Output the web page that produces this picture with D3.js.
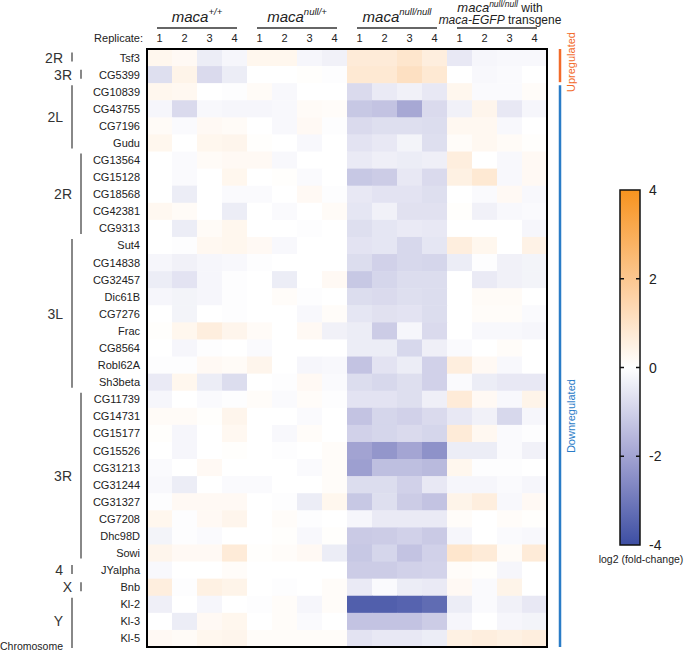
<!DOCTYPE html>
<html><head><meta charset="utf-8">
<script src="https://cdn.jsdelivr.net/npm/d3@7"></script>
<style>body{margin:0;background:#fff} svg{display:block} text{font-family:"Liberation Sans",Arial,sans-serif}</style>
</head><body><svg id="c" width="687" height="652"></svg>
<script>
const genes = ["Tsf3","CG5399","CG10839","CG43755","CG7196","Gudu","CG13564","CG15128","CG18568","CG42381","CG9313","Sut4","CG14838","CG32457","Dic61B","CG7276","Frac","CG8564","Robl62A","Sh3beta","CG11739","CG14731","CG15177","CG15526","CG31213","CG31244","CG31327","CG7208","Dhc98D","Sowi","JYalpha","Bnb","Kl-2","Kl-3","Kl-5"];
const replicates = ["1","2","3","4"];
const groups = ["wildType","heterozygous","homozygous","rescue"];
// log2 fold-change, one row per gene, 4 replicates
const wildType = [[0.3,0.2,-0.4,-0.2],[-0.7,0.4,-0.8,-0.4],[0.3,0.25,0,-0.05],[-0.2,-0.8,-0.15,-0.2],[0.15,-0.1,0.2,0.15],[0.3,0,0.3,0.35],[0,-0.1,0.15,0.2],[0,-0.1,0,0.3],[0,-0.4,0,-0.1],[0.25,0.15,0,-0.4],[0,-0.4,0.15,0.3],[0,-0.05,0.25,0.3],[-0.2,-0.3,-0.2,-0.15],[-0.4,-0.6,-0.2,-0.05],[-0.2,-0.25,-0.2,-0.05],[0,-0.25,0,-0.05],[0.05,0.3,0.6,0.35],[0,-0.2,-0.05,0],[-0.05,-0.05,0.2,0.15],[-0.45,0.3,-0.4,-0.75],[-0.2,0,-0.1,-0.05],[0.15,0.15,0.05,0.35],[0.05,-0.2,0,0.25],[0,-0.2,0,0.05],[-0.1,0,0.2,0],[-0.15,-0.4,0,-0.1],[-0.05,0.2,0.2,0.2],[0.3,-0.05,0.2,0.35],[-0.25,-0.05,-0.1,0],[0.35,0.2,0.2,0.7],[-0.15,0,0,0.1],[0.6,-0.05,0.5,0.4],[-0.35,0,-0.2,0],[0,-0.4,0.2,0.3],[0.2,0.15,0.3,0.35]];
const heterozygous = [[0.3,0.3,-0.2,-0.3],[0,0,0.05,-0.05],[0.15,-0.15,0,0],[-0.2,-0.15,0.15,0.1],[0,-0.15,0.2,-0.05],[0.05,0,-0.15,0],[0.2,-0.15,0,0],[0,0.05,-0.1,0],[-0.1,0,0.2,-0.05],[0,-0.1,0,0.15],[0,0,-0.05,0],[0.2,-0.15,0,0],[-0.05,0,0,0],[0,-0.4,0,0.2],[0,0.1,-0.05,0],[0,0,-0.15,0.1],[0.15,0,0.2,-0.3],[-0.1,0,0,0],[0.35,0,-0.2,-0.15],[0,-0.05,0.2,-0.1],[0.1,-0.1,0.1,-0.05],[0,0,-0.1,0],[0,-0.15,0.1,0],[0,-0.05,0,0.1],[0,0,-0.1,0.1],[-0.1,0,0,0.1],[0,-0.05,-0.4,0.3],[0,0.1,-0.05,0],[0,0.05,-0.15,0.05],[0.05,0.1,0.2,-0.4],[0,0,0,0],[0,-0.05,0,0.1],[-0.05,0.1,-0.2,0.1],[0,0.1,-0.1,0],[0.1,0.1,0.1,0.1]];
const homozygous = [[0.7,0.7,0.9,0.6],[0.8,0.8,1.1,0.8],[-0.8,-0.45,-0.3,-0.5],[-1.2,-1.3,-1.9,-0.8],[-0.8,-0.7,-0.7,-0.75],[-0.6,-0.5,-0.25,-0.7],[-0.45,-0.35,-0.4,-0.35],[-1.2,-1.1,-0.5,-0.8],[-0.5,-0.6,-0.6,-0.7],[-0.55,-0.3,-0.65,-0.65],[-0.7,-0.55,-0.45,-0.5],[-0.6,-0.55,-0.85,-0.55],[-0.75,-1.0,-0.85,-0.9],[-1.2,-0.9,-0.75,-0.75],[-0.75,-0.8,-0.7,-0.75],[-0.55,-0.65,-0.6,-0.75],[-0.4,-1.1,-0.2,-0.8],[-0.4,-0.4,-0.85,-0.35],[-1.3,-0.6,-0.4,-1.0],[-0.75,-0.85,-0.7,-1.0],[-0.6,-0.6,-0.7,-0.35],[-1.3,-0.9,-1.0,-0.8],[-1.0,-0.9,-0.8,-0.9],[-2.0,-2.3,-1.95,-2.4],[-2.1,-1.4,-1.4,-1.5],[-0.75,-0.75,-1.0,-0.5],[-1.2,-0.7,-1.1,-1.3],[-0.2,-0.45,-0.45,-0.45],[-1.15,-1.1,-1.0,-1.15],[-1.2,-0.9,-1.3,-1.0],[-1.1,-1.1,-1.0,-0.95],[-0.45,-0.1,-0.4,-0.45],[-3.6,-3.6,-3.5,-3.3],[-1.3,-1.3,-1.3,-1.1],[-0.6,-0.5,-0.5,-0.4]];
const rescue = [[-0.5,-0.2,-0.15,-0.15],[0,-0.15,-0.1,0],[0.3,-0.1,-0.1,0.1],[-0.3,0.35,-0.5,-0.2],[0.25,0.25,-0.15,0],[0.1,0.25,0.15,0.05],[0.6,0,-0.15,0.2],[0.5,0.8,-0.15,0.2],[0,-0.1,0.2,-0.15],[0.05,-0.3,-0.15,-0.1],[0,0,0,-0.2],[0.6,0.3,0,0.45],[-0.4,-0.05,-0.3,-0.25],[0,-0.45,-0.3,-0.25],[0,0.15,0.15,0],[0,0.1,0.1,-0.1],[0,-0.15,-0.15,-0.2],[-0.1,0,0.1,0],[0.6,0.2,-0.15,0],[-0.1,-0.4,-0.5,-0.5],[0.7,0.2,-0.15,0.4],[-0.5,-0.3,-0.85,-0.2],[0.7,0.25,-0.1,-0.05],[-0.4,-0.4,-0.1,-0.3],[0.3,-0.05,-0.05,0],[-0.2,-0.2,-0.1,-0.2],[0.4,0.6,-0.15,0.2],[0.1,0,0.1,0.05],[-0.2,0,-0.1,-0.15],[0.9,0.7,0.15,0.7],[0.1,0.05,-0.2,0],[0.2,-0.1,0.4,0],[-0.4,-0.1,-0.3,-0.5],[-0.2,0,-0.2,-0.25],[0.5,0.6,0.5,0.6]];
const chromLabels = ["2R","3R","2L","2R","3L","3R","4","X","Y"];
const chromFirst  = ["Tsf3","CG5399","CG10839","CG13564","Sut4","CG11739","JYalpha","Bnb","Kl-2"];
const chromLast   = ["Tsf3","CG5399","Gudu","CG9313","Sh3beta","Sowi","JYalpha","Bnb","Kl-5"];
const chromLevel  = [0,1,0,1,0,1,0,1,0];
const regLabels = ["Upregulated","Downregulated"];
const regFirst = ["Tsf3","CG10839"];
const regLast = ["CG5399","Kl-5"];
const regColors = ["#f26b2a","#2a7cc7"];
const colorTicks = [4,2,0,-2,-4];

const dataSets = {wildType, heterozygous, homozygous, rescue};
const columns = [];
groups.forEach((g,gi)=>replicates.forEach((r,ri)=>columns.push({key:g+"_"+r,g,gi,ri,r})));
const cells = [];
genes.forEach((gene,i)=>columns.forEach(c=>cells.push({gene,col:c.key,v:dataSets[c.g][i][c.ri]})));

const svg = d3.select("#c");
const x = d3.scaleBand().domain(columns.map(c=>c.key)).range([147,547]);
const y = d3.scaleBand().domain(genes).range([49,647]);
const color = d3.scaleLinear().domain([-4,-2,0,2,4]).range(["#3d4ea3","#a2a3d2","#ffffff","#fcc790","#f7931e"]).clamp(true);

svg.append("g").selectAll("rect").data(cells).join("rect")
  .attr("x",d=>x(d.col)).attr("y",d=>y(d.gene))
  .attr("width",x.bandwidth()+0.5).attr("height",y.bandwidth()+0.5)
  .attr("fill",d=>color(d.v));
svg.append("rect").attr("x",147).attr("y",49).attr("width",400).attr("height",598)
  .attr("fill","none").attr("stroke","#000").attr("stroke-width",2);

// gene labels
svg.append("g").selectAll("text").data(genes).join("text")
  .attr("x",140).attr("y",d=>y(d)+y.bandwidth()/2+4).attr("text-anchor","end")
  .attr("font-size",11).attr("fill","#222").text(d=>d);

// replicate labels
svg.append("text").attr("x",143).attr("y",42).attr("text-anchor","end").attr("font-size",11).attr("fill","#222").text("Replicate:");
svg.append("g").selectAll("text").data(columns).join("text")
  .attr("x",d=>x(d.key)+x.bandwidth()/2).attr("y",42).attr("text-anchor","middle")
  .attr("font-size",11).attr("fill","#222").text(d=>d.r);

// group headers
const gx = gi => { const a = x(columns[gi*4].key), b = x(columns[gi*4+3].key)+x.bandwidth(); return [a,b]; };
groups.forEach((g,gi)=>{
  const [a,b] = gx(gi);
  svg.append("line").attr("x1",a+10).attr("x2",b-10).attr("y1",28).attr("y2",28).attr("stroke","#333").attr("stroke-width",1.5);
});
const sups = ["+/+","null/+","null/null"];
sups.forEach((s,gi)=>{
  const [a,b]=gx(gi);
  const t = svg.append("text").attr("x",(a+b)/2).attr("y",22).attr("text-anchor","middle").attr("fill","#222").attr("font-size",15);
  t.append("tspan").attr("font-style","italic").text("maca");
  t.append("tspan").attr("font-style","italic").attr("font-size",9.5).attr("dy",-7).text(s);
});
{
  const [a,b]=gx(3);
  const t1 = svg.append("text").attr("x",(a+b)/2+3).attr("y",12).attr("text-anchor","middle").attr("fill","#222").attr("font-size",12);
  t1.append("tspan").attr("font-style","italic").attr("font-size",13).text("maca");
  t1.append("tspan").attr("font-style","italic").attr("font-size",8.5).attr("dy",-5).text("null/null");
  t1.append("tspan").attr("dy",5).text(" with");
  const t2 = svg.append("text").attr("x",(a+b)/2+3).attr("y",24).attr("text-anchor","middle").attr("fill","#222").attr("font-size",12);
  t2.append("tspan").attr("font-style","italic").text("maca-EGFP");
  t2.append("tspan").text(" transgene");
}

// chromosome brackets
chromLabels.forEach((lab,i)=>{
  const y0 = y(chromFirst[i]), y1 = y(chromLast[i])+y.bandwidth();
  const bx = chromLevel[i]===0 ? 72 : 81;
  const single = chromFirst[i]===chromLast[i];
  const cy = (y0+y1)/2;
  svg.append("line").attr("x1",bx).attr("x2",bx)
    .attr("y1", single ? cy-5 : y0+2).attr("y2", single ? cy+4 : (i===chromLabels.length-1 ? y1+1 : y1-3))
    .attr("stroke","#888").attr("stroke-width",2);
  svg.append("text").attr("x",bx-9).attr("y",cy+5).attr("text-anchor","end")
    .attr("font-size",14).attr("fill","#333").text(lab);
});
svg.append("text").attr("x",0).attr("y",650).attr("font-size",10.5).attr("fill","#222").text("Chromosome");

// regulation bars
regLabels.forEach((lab,i)=>{
  const y0 = y(regFirst[i]) + (i===1?2:0), y1 = y(regLast[i])+y.bandwidth() - (i===0?1:0);
  svg.append("line").attr("x1",560).attr("x2",560).attr("y1",y0).attr("y2",y1).attr("stroke",regColors[i]).attr("stroke-width",2.5);
  const cy = i===0 ? 62 : (y0+y1)/2 + 50;
  svg.append("text").attr("transform",`translate(575,${cy}) rotate(-90)`).attr("text-anchor","middle")
    .attr("font-size",11).attr("fill",regColors[i]).text(lab);
});

// colour bar
const cbX = 620, cbW = 20, cbTop = 190, cbBot = 545;
const cy = d3.scaleLinear().domain([4,-4]).range([cbTop,cbBot]);
const grad = svg.append("defs").append("linearGradient").attr("id","cg").attr("x1",0).attr("x2",0).attr("y1",0).attr("y2",1);
d3.range(0,21).forEach(k=>{ const v = 4 - k*0.4; grad.append("stop").attr("offset",(k/20)).attr("stop-color",color(v)); });
svg.append("rect").attr("x",cbX).attr("y",cbTop).attr("width",cbW).attr("height",cbBot-cbTop).attr("fill","url(#cg)").attr("stroke","#111").attr("stroke-width",1.5);
colorTicks.forEach(t=>{
  if (Math.abs(t)<4) {
    svg.append("line").attr("x1",cbX).attr("x2",cbX+4).attr("y1",cy(t)).attr("y2",cy(t)).attr("stroke","#111").attr("stroke-width",1.5);
    svg.append("line").attr("x1",cbX+cbW-4).attr("x2",cbX+cbW).attr("y1",cy(t)).attr("y2",cy(t)).attr("stroke","#111").attr("stroke-width",1.5);
  }
  svg.append("text").attr("x",cbX+cbW+9).attr("y",cy(t)+5).attr("font-size",14).attr("fill","#222").text(t);
});
svg.append("text").attr("x",641).attr("y",cbBot+18).attr("text-anchor","middle").attr("font-size",10.5).attr("fill","#222").text("log2 (fold-change)");
</script></body></html>
